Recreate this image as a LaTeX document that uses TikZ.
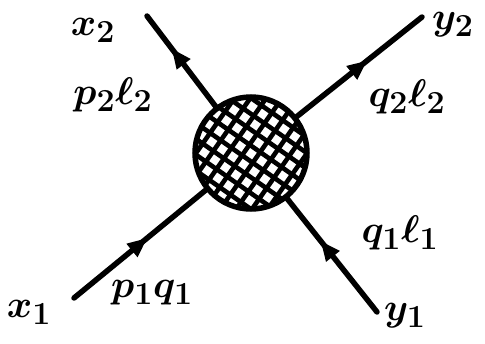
\documentclass[tikz,border=0pt]{standalone}
\usetikzlibrary{arrows.meta,decorations.markings}
\begin{document}
\begin{tikzpicture}[x=1pt,y=-1pt,
  leg/.style={line width=5.5pt, line cap=round, postaction={decorate},
    decoration={markings, mark=at position #1 with {\arrow{Triangle[length=20pt,width=16pt]}}}},
  hatch/.style={line width=4.6pt},
  lbl/.style={font=\fontsize{24.88}{28}\selectfont\boldmath, inner sep=0pt, scale=1.55}]
\useasboundingbox (0,0) rectangle (485,343);
\coordinate (c) at (251,153);
\node[circle, minimum size=112pt, inner sep=0pt] (blob) at (c) {};
\coordinate (x1) at (74,298);
\coordinate (y1) at (377,312);
\coordinate (x2) at (147,16);
\coordinate (y2) at (422,17);
% hatching
\begin{scope}
  \clip (c) circle (56pt);
  \begin{scope}[shift={(c)}, rotate=-35]
    \foreach \i in {-84,-71,...,84} {
      \draw[hatch] (\i,-90) -- (\i,90);
      \draw[hatch] (-90,\i) -- (90,\i);
    }
  \end{scope}
\end{scope}
\draw[line width=5.5pt] (c) circle (56pt);
% legs
\draw[leg=0.55] (x1) -- (blob);
\draw[leg=0.62] (y1) -- (blob);
\draw[leg=0.65] (blob) -- (x2);
\draw[leg=0.57] (blob) -- (y2);
% labels
\node[lbl] (lx2) at (93,30) {$x_2$};
\node[lbl] (lp2) at (113,95) {$p_2\ell_2$};
\node[lbl] (ly2) at (453,25) {$y_2$};
\node[lbl] (lq2) at (407,97) {$q_2\ell_2$};
\node[lbl] (lq1) at (400,233) {$q_1\ell_1$};
\node[lbl] (ly1) at (405,316) {$y_1$};
\node[lbl] (lx1) at (29,312) {$x_1$};
\node[lbl] (lp1) at (152,293) {$p_1q_1$};
\end{tikzpicture}
\end{document}
